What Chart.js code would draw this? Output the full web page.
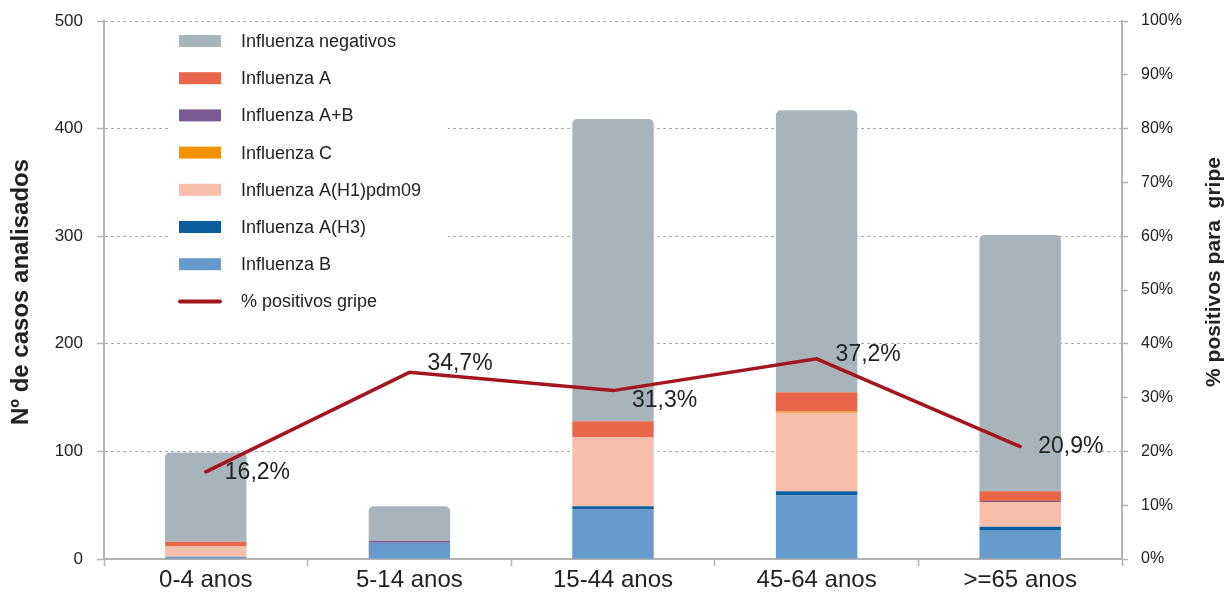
<!DOCTYPE html>
<html>
<head>
<meta charset="utf-8">
<script src="https://cdn.jsdelivr.net/npm/chart.js@4.4.1/dist/chart.umd.min.js"></script>
<style>
  html, body { margin: 0; padding: 0; background: #ffffff; }
  #wrap { width: 1231px; height: 593px; position: relative; }
</style>
</head>
<body>
<div id="wrap"><canvas id="c"></canvas></div>
<script>
// ---- Data ----
const categories = ['0-4 anos', '5-14 anos', '15-44 anos', '45-64 anos', '>=65 anos'];
const fluB        = [2, 15, 46, 59, 27];
const fluAH3      = [0, 0, 3, 4, 3];
const fluAH1pdm09 = [10, 0, 64, 73, 23];
const fluC        = [0, 0, 0, 1, 0];
const fluAB       = [0, 2, 0, 0, 1];
const fluA        = [4, 0, 15, 18, 9];
const fluNeg      = [83, 32, 281, 262, 238];
const pctPositive = [16.2, 34.7, 31.3, 37.2, 20.9];
const countTicks  = [0, 100, 200, 300, 400, 500];
const pctTicks    = [0, 10, 20, 30, 40, 50, 60, 70, 80, 90, 100];

const seriesNames = {
  neg: 'Influenza negativos', A: 'Influenza A', AB: 'Influenza A+B', C: 'Influenza C',
  H1: 'Influenza A(H1)pdm09', H3: 'Influenza A(H3)', B: 'Influenza B', pct: '% positivos gripe'
};

const FONT = '"Liberation Sans", Arial, Helvetica, sans-serif';
const GRID = '#b3b3b3';

function barDs(label, data, color, extra) {
  return Object.assign({
    type: 'bar', label, data, backgroundColor: color, borderWidth: 0,
    yAxisID: 'y', stack: 's', order: 2,
    categoryPercentage: 1.0, barPercentage: 0.4
  }, extra || {});
}

const datasets = [
  barDs(seriesNames.B, fluB, '#6699cc'),
  barDs(seriesNames.H3, fluAH3, '#0b5e9e'),
  barDs(seriesNames.H1, fluAH1pdm09, '#f7bfaa'),
  barDs(seriesNames.C, fluC, '#f39200'),
  barDs(seriesNames.AB, fluAB, '#7a5a93'),
  barDs(seriesNames.A, fluA, '#e8674a'),
  barDs(seriesNames.neg, fluNeg, '#a8b4b9', {
    borderRadius: { topLeft: 5, topRight: 5, bottomLeft: 0, bottomRight: 0 },
    borderSkipped: 'bottom'
  }),
  {
    type: 'line', label: seriesNames.pct, data: pctPositive, yAxisID: 'y1', order: 0,
    borderColor: '#a3161f', backgroundColor: '#a3161f', borderWidth: 3.5,
    pointRadius: 0, tension: 0, fill: false, borderCapStyle: 'round', borderJoinStyle: 'miter'
  }
];

// custom legend drawn inside the plot
const legendPlugin = {
  id: 'insideLegend',
  beforeDatasetsDraw(chart) {
    const ctx = chart.ctx;
    ctx.save();
    ctx.fillStyle = '#ffffff';
    ctx.fillRect(168, 24, 280, 296);
    const ds = chart.data.datasets;
    const bars = ds.filter(d => d.type === 'bar').slice().reverse();
    const lines = ds.filter(d => d.type === 'line');
    const items = bars.concat(lines);
    ctx.font = '18px ' + FONT;
    ctx.textBaseline = 'middle';
    ctx.textAlign = 'left';
    items.forEach((d, i) => {
      const y = 41 + i * 37.2;
      if (d.type === 'line') {
        ctx.strokeStyle = d.borderColor;
        ctx.lineWidth = 4;
        ctx.lineCap = 'round';
        ctx.beginPath(); ctx.moveTo(180, y); ctx.lineTo(220, y); ctx.stroke();
      } else {
        ctx.fillStyle = d.backgroundColor;
        ctx.fillRect(179, y - 6, 42, 12);
      }
      ctx.fillStyle = '#222222';
      ctx.fillText(d.label, 241, y + 1);
    });
    ctx.restore();
  }
};

// data labels for the percentage line
const labelOffsets = [[19, 1], [18, -9], [19, 10], [19, -4], [18, 0]];
const pctLabelPlugin = {
  id: 'pctLabels',
  afterDatasetsDraw(chart) {
    const idx = chart.data.datasets.findIndex(d => d.type === 'line');
    const meta = chart.getDatasetMeta(idx);
    const ctx = chart.ctx;
    ctx.save();
    ctx.font = '23px ' + FONT;
    ctx.fillStyle = '#222222';
    ctx.textAlign = 'left';
    ctx.textBaseline = 'middle';
    meta.data.forEach((pt, i) => {
      const v = chart.data.datasets[idx].data[i];
      const txt = v.toFixed(1).replace('.', ',') + '%';
      const off = labelOffsets[i] || [18, 0];
      ctx.fillText(txt, pt.x + off[0], pt.y + off[1]);
    });
    ctx.restore();
  }
};

// axis titles
const titlePlugin = {
  id: 'axisTitles',
  afterDraw(chart) {
    const ctx = chart.ctx;
    ctx.save();
    ctx.fillStyle = '#222222';
    ctx.textAlign = 'center';
    ctx.textBaseline = 'middle';
    ctx.font = 'bold 24px ' + FONT;
    ctx.translate(21, 292);
    ctx.rotate(-Math.PI / 2);
    ctx.fillText('Nº de casos analisados', 0, 0);
    ctx.restore();
    ctx.save();
    ctx.fillStyle = '#222222';
    ctx.textAlign = 'center';
    ctx.textBaseline = 'middle';
    ctx.font = 'bold 21px ' + FONT;
    ctx.translate(1214, 272);
    ctx.rotate(-Math.PI / 2);
    ctx.fillText('% positivos para  gripe', 0, 0);
    ctx.restore();
  }
};

new Chart(document.getElementById('c'), {
  data: { labels: categories, datasets },
  options: {
    responsive: true,
    maintainAspectRatio: false,
    animation: false,
    layout: { padding: { top: 21, left: 0, right: 0, bottom: 0 } },
    plugins: { legend: { display: false }, tooltip: { enabled: false } },
    scales: {
      x: {
        stacked: true,
        grid: { offset: true, drawOnChartArea: false, tickLength: 7, tickColor: GRID, tickWidth: 1.5 },
        border: { color: GRID, width: 2 },
        ticks: { font: { family: FONT, size: 24 }, color: '#222222', padding: 0 },
        afterFit(s) { s.height = 34; s.paddingLeft = 0; s.paddingRight = 0; }
      },
      y: {
        stacked: true, min: 0, max: 500,
        afterBuildTicks(s) { s.ticks = countTicks.map(v => ({ value: v })); },
        ticks: { font: { family: FONT, size: 17 }, color: '#222222', padding: 14 },
        grid: {
          color: c => (c.tick && c.tick.value === 0) ? 'rgba(0,0,0,0)' : '#a9a9a9',
          lineWidth: 1, tickColor: GRID, tickLength: 7, tickWidth: 1.5
        },
        border: { dash: [3, 3], color: GRID, width: 2 },
        afterFit(s) { s.width = 104; s.paddingTop = 0; s.paddingBottom = 0; }
      },
      y1: {
        position: 'right', min: 0, max: 100,
        afterBuildTicks(s) { s.ticks = pctTicks.map(v => ({ value: v })); },
        ticks: { font: { family: FONT, size: 16 }, color: '#222222', padding: 13, callback: v => v + '%' },
        grid: { drawOnChartArea: false, tickColor: GRID, tickLength: 6, tickWidth: 1.5 },
        border: { color: GRID, width: 2 },
        afterFit(s) { s.width = 109; s.paddingTop = 0; s.paddingBottom = 0; }
      }
    }
  },
  plugins: [legendPlugin, pctLabelPlugin, titlePlugin]
});
</script>
</body>
</html>
